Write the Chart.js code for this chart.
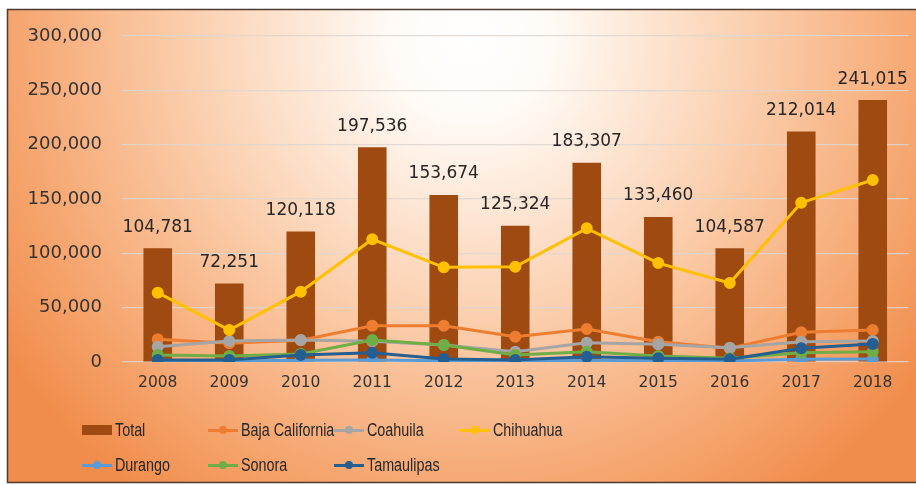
<!DOCTYPE html>
<html>
<head>
<meta charset="utf-8">
<script src="https://cdn.jsdelivr.net/npm/chart.js@4.4.1/dist/chart.umd.min.js"></script>
<style>
    html, body { margin: 0; padding: 0; background: #fff; }
    #wrap { position: relative; width: 916px; height: 485px; overflow: hidden; }
    #grafico { position: absolute; left: 0; top: 0; }
    #legenda {
        position: absolute; left: 82px; top: 418px;
        display: grid; grid-template-columns: repeat(4, 126px); row-gap: 11px;
        font-family: "Liberation Sans", Arial, sans-serif; font-size: 17.5px; color: #262626;
    }
    .item { display: flex; align-items: center; height: 24px; white-space: nowrap; }
    .marca { position: relative; width: 30px; height: 10px; flex: none; }
    .marca .linha { position: absolute; left: 0; right: 0; top: 3.5px; height: 3px; }
    .marca .ponto { position: absolute; left: 11px; top: 1px; width: 8px; height: 8px; border-radius: 50%; }
    .texto { display: inline-block; transform: scaleX(0.82); transform-origin: left center; margin-left: 3px; }
</style>
</head>
<body>
<div id="wrap">
    <canvas id="grafico" width="916" height="485"></canvas>
    <div id="legenda"></div>
</div>
<script>
const anos = ["2008", "2009", "2010", "2011", "2012", "2013", "2014", "2015", "2016", "2017", "2018"];
const total = [104781, 72251, 120118, 197536, 153674, 125324, 183307, 133460, 104587, 212014, 241015];
const bajaCalifornia = [20900, 17200, 20000, 33400, 33400, 23300, 30400, 18700, 12600, 27300, 29400];
const coahuila = [14100, 19300, 20200, 19000, 15600, 9500, 17800, 16300, 13200, 18700, 19300];
const chihuahua = [63800, 29400, 64700, 112900, 87100, 87700, 123000, 91000, 72700, 146600, 167500];
const durango = [1200, 1000, 1500, 1800, 1200, 1000, 1500, 1200, 1000, 2500, 2800];
const sonora = [6400, 5500, 7400, 20200, 15600, 6400, 9500, 5500, 3400, 8600, 9500];
const tamaulipas = [1800, 1800, 6400, 8600, 2800, 1800, 4900, 3400, 2500, 12600, 16600];
const ticksY = [0, 50000, 100000, 150000, 200000, 250000, 300000];

const corBarra = "#9e4a10";
const fonteNumeros = '"DejaVu Sans", sans-serif';

function formatar(valor) {
    return valor.toLocaleString("en-US");
}

// fundo com moldura e degradê radial
const fundo = {
    id: "fundo",
    beforeDraw(chart) {
        const ctx = chart.ctx;
        ctx.save();
        ctx.fillStyle = "#ffffff";
        ctx.fillRect(0, 0, chart.width, chart.height);

        const grad = ctx.createRadialGradient(470, 40, 0, 470, 40, 560);
        grad.addColorStop(0, "#ffffff");
        grad.addColorStop(0.15, "#fffaf5");
        grad.addColorStop(0.5, "#fbcfae");
        grad.addColorStop(0.85, "#f5a168");
        grad.addColorStop(1, "#f08d4c");
        ctx.fillStyle = grad;
        ctx.fillRect(8, 10, 910, 472);

        ctx.strokeStyle = "#4e3b30";
        ctx.lineWidth = 1.5;
        ctx.strokeRect(7.5, 9.5, 912, 473);
        ctx.restore();
    }
};

// rótulos de valor por cima das barras
const rotulosTotal = {
    id: "rotulosTotal",
    afterDatasetsDraw(chart) {
        const meta = chart.getDatasetMeta(0);
        const ctx = chart.ctx;
        ctx.save();
        ctx.font = "17px " + fonteNumeros;
        ctx.fillStyle = "#262626";
        ctx.textAlign = "center";
        ctx.textBaseline = "middle";
        meta.data.forEach(function (barra, i) {
            ctx.fillText(formatar(total[i]), barra.x, barra.y - 21);
        });
        ctx.restore();
    }
};

function serie(nome, dados, cor, ordem) {
    return {
        type: "line",
        label: nome,
        data: dados,
        borderColor: cor,
        backgroundColor: cor,
        pointBackgroundColor: cor,
        pointBorderColor: cor,
        borderWidth: 3,
        pointRadius: 4.5,
        tension: 0,
        order: ordem
    };
}

const series = [
    { type: "bar", label: "Total", data: total, backgroundColor: corBarra, barPercentage: 0.4, categoryPercentage: 1.0, order: 7 },
    serie("Baja California", bajaCalifornia, "#ed7d31", 6),
    serie("Coahuila", coahuila, "#a5a5a5", 5),
    serie("Chihuahua", chihuahua, "#ffc000", 4),
    serie("Durango", durango, "#5b9bd5", 3),
    serie("Sonora", sonora, "#70ad47", 2),
    serie("Tamaulipas", tamaulipas, "#255e91", 1)
];

new Chart(document.getElementById("grafico"), {
    type: "bar",
    data: {
        labels: anos,
        datasets: series
    },
    options: {
        responsive: false,
        animation: false,
        layout: {
            padding: { top: 36, left: 0, right: 5, bottom: 83 }
        },
        plugins: {
            legend: { display: false },
            tooltip: { enabled: false }
        },
        scales: {
            x: {
                grid: { display: false, drawTicks: false },
                border: { display: false },
                ticks: {
                    color: "#333333",
                    padding: 12,
                    font: { family: fonteNumeros, size: 15.5 }
                },
                afterFit: function (scale) {
                    scale.height = 40;
                }
            },
            y: {
                min: 0,
                max: 300000,
                grid: { color: "rgba(222, 214, 208, 0.85)", lineWidth: 1.2, drawTicks: false },
                border: { display: false },
                ticks: {
                    color: "#333333",
                    padding: 20,
                    font: { family: fonteNumeros, size: 18 },
                    callback: function (valor) {
                        return formatar(valor);
                    }
                },
                afterBuildTicks: function (scale) {
                    scale.ticks = ticksY.map(function (v) { return { value: v }; });
                },
                afterFit: function (scale) {
                    scale.width = 122;
                }
            }
        }
    },
    plugins: [fundo, rotulosTotal]
});

// legenda em grelha, como no original
const legenda = document.getElementById("legenda");
series.forEach(function (ds) {
    const item = document.createElement("div");
    item.className = "item";
    const marca = document.createElement("span");
    marca.className = "marca";
    if (ds.type === "bar") {
        marca.style.background = ds.backgroundColor;
    } else {
        const linha = document.createElement("span");
        linha.className = "linha";
        linha.style.background = ds.borderColor;
        const ponto = document.createElement("span");
        ponto.className = "ponto";
        ponto.style.background = ds.borderColor;
        marca.appendChild(linha);
        marca.appendChild(ponto);
    }
    const texto = document.createElement("span");
    texto.className = "texto";
    texto.textContent = ds.label;
    item.appendChild(marca);
    item.appendChild(texto);
    legenda.appendChild(item);
});
</script>
</body>
</html>
